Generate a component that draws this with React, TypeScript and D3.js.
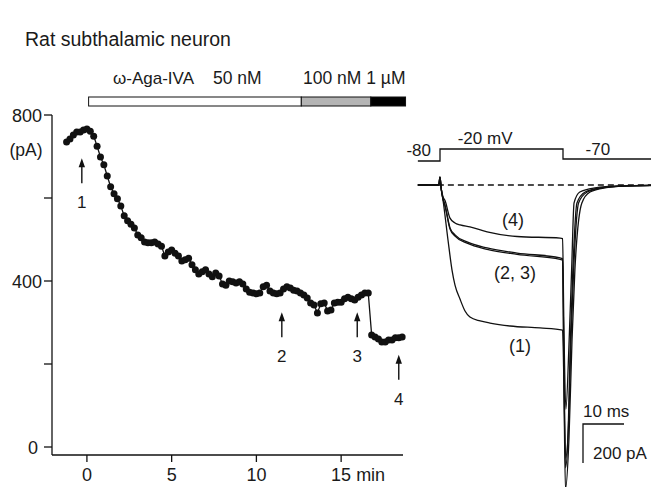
import React, { useEffect, useRef } from 'react';
import * as d3 from 'd3';

// Peak Ca current vs time, plus example current traces (1)-(4).

const W = 651;
const H = 487;
const FONT = 'Liberation Sans, Arial, Helvetica, sans-serif';

// time course (min) and peak current (pA)
const sweepTimes = [
  -1.2, -1.0, -0.8, -0.6, -0.4, -0.2, 0, 0.2, 0.4, 0.6, 0.8, 1.0, 1.2, 1.4, 1.6, 1.8, 2.0, 2.2, 2.4, 2.6,
  2.8, 3.0, 3.2, 3.4, 3.6, 3.8, 4.0, 4.2, 4.4, 4.6, 4.8, 5.0, 5.2, 5.4, 5.6, 5.8, 6.0, 6.2, 6.4, 6.6,
  6.8, 7.0, 7.2, 7.4, 7.6, 7.8, 8.0, 8.2, 8.4, 8.6, 8.8, 9.0, 9.2, 9.4, 9.6, 9.8, 10.0, 10.2, 10.4, 10.6,
  10.8, 11.0, 11.2, 11.4, 11.6, 11.8, 12.0, 12.2, 12.4, 12.6, 12.8, 13.0, 13.2, 13.4, 13.6, 13.8, 14.0, 14.2, 14.4, 14.6,
  14.8, 15.0, 15.2, 15.4, 15.6, 15.8, 16.0, 16.2, 16.4, 16.6, 16.8, 17.0, 17.2, 17.4, 17.6, 17.8, 18.0, 18.2, 18.4, 18.6,
];
const peakCurrent = [
  735, 742, 752, 759, 759, 764, 766, 761, 749, 725, 699, 680, 653, 627, 610, 598, 581, 557, 545, 537,
  528, 511, 504, 494, 492, 492, 494, 489, 484, 460, 470, 475, 467, 460, 448, 451, 455, 439, 427, 417,
  422, 427, 417, 410, 419, 412, 393, 390, 400, 398, 395, 398, 393, 381, 373, 371, 369, 371, 386, 390,
  376, 371, 369, 371, 381, 386, 383, 378, 376, 371, 366, 359, 347, 342, 323, 345, 347, 328, 330, 347,
  349, 349, 357, 361, 357, 354, 361, 366, 371, 371, 270, 265, 260, 253, 253, 258, 258, 263, 263, 265,
];

const yTicks = [0, 200, 400, 600, 800];
const yTickLabels = ['0', '', '400', '', '800'];
const xTicks = [0, 5, 10, 15];
const xTickLabels = ['0', '5', '10', '15'];

// drug application bar
const drugFrom = [0.1, 12.65, 16.75];
const drugTo = [12.65, 16.75, 18.8];
const drugFill = ['#ffffff', '#b4b4b4', '#000000'];

// arrows marking the sweeps shown on the right
const arrowTimes = [-0.3, 11.5, 15.95, 18.4];
const arrowTipValues = [696, 325, 325, 222];
const arrowLabels = ['1', '2', '3', '4'];

// voltage protocol (ms, mV)
const protocolTimes = [-5.4, 0, 0, 30, 30, 51.6];
const protocolMv = [-80, -80, -20, -20, -70, -70];

// current traces (ms, pA)
const trace1: [number, number][] = [
  [-5.4, 0], [-0.3, 0], [0, 40], [0.3, -20], [0.73, -77], [1.95, -282], [2.93, -436], [3.66, -513],
  [4.88, -585], [6.1, -646], [7.3, -677], [9.8, -697], [12.2, -708], [17.1, -723], [24.4, -733],
  [29.9, -744], [30.2, -1000], [30.6, -1560], [31.46, -1297], [32.2, -795], [32.9, -436], [34.6, -92],
  [36.6, -36], [40.2, -15], [46.3, -5], [51.6, -3],
];
const trace2: [number, number][] = [
  [-5.4, 0], [-0.3, 0], [0, 40], [0.3, -20], [0.73, -70], [1.22, -103], [2.44, -220], [3.66, -256],
  [6.6, -292], [11.5, -323], [18.8, -349], [29.3, -374], [29.9, -378], [30.2, -900], [30.6, -1450],
  [31.2, -1297], [31.8, -795], [32.4, -436], [33.4, -92], [35.4, -36], [39, -15], [45.1, -5], [51.6, -2],
];
const trace3: [number, number][] = [
  [-5.4, 0], [-0.3, 0], [0, 40], [0.3, -20], [0.73, -72], [1.22, -108], [2.44, -226], [3.66, -262],
  [6.6, -298], [11.5, -330], [18.8, -356], [29.3, -382], [29.9, -385], [30.2, -900], [30.65, -1400],
  [31.3, -1250], [31.95, -795], [32.6, -436], [33.8, -92], [35.9, -36], [39.5, -15], [45.6, -5], [51.6, -2],
];
const trace4: [number, number][] = [
  [-5.4, 0], [-0.3, 0], [0, 40], [0.3, -20], [0.73, -60], [1.22, -80], [2.44, -170], [3.66, -195],
  [4.9, -205], [7.3, -215], [11.5, -240], [18.8, -264], [29.3, -272], [29.9, -275], [30.2, -700],
  [30.7, -1150], [31.5, -795], [32.1, -436], [32.7, -92], [34.1, -36], [37.8, -15], [43.9, -5], [51.6, -2],
];
const traces = [trace1, trace2, trace3, trace4];
const traceLabels = ['(1)', '(2, 3)', '(4)'];
const traceLabelT = [19.5, 18.3, 17.8];
const traceLabelPa = [-855, -480, -210];

const App = () => {
  const svgRef = useRef<SVGSVGElement>(null);

  useEffect(() => {
    const svg = d3.select(svgRef.current);
    svg.selectAll('*').remove();
    svg.append('rect').attr('width', W).attr('height', H).attr('fill', 'white');

    const txt = (x: number, y: number, s: string, size: number, anchor = 'start') =>
      svg
        .append('text')
        .attr('x', x)
        .attr('y', y)
        .attr('text-anchor', anchor)
        .attr('font-family', FONT)
        .attr('font-size', size)
        .attr('fill', '#1a1a1a')
        .text(s);

    txt(25, 46, 'Rat subthalamic neuron', 19.5);

    // ---------- time course ----------
    const x = d3.scaleLinear().domain([-2.06, 18.65]).range([52, 403]);
    const y = d3.scaleLinear().domain([0, 800]).range([447, 115]);
    const axisY = 455;

    const g = svg.append('g').attr('stroke', '#111').attr('fill', 'none').attr('stroke-width', 1.3);
    g.append('line').attr('x1', 52).attr('x2', 52).attr('y1', y(800)).attr('y2', axisY);
    g.append('line').attr('x1', 52).attr('x2', x.range()[1]).attr('y1', axisY).attr('y2', axisY);
    yTicks.forEach((v) => {
      g.append('line').attr('x1', 44).attr('x2', 52).attr('y1', y(v)).attr('y2', y(v));
    });
    yTicks.forEach((v, i) => {
      if (yTickLabels[i]) txt(v === 0 ? 38 : 42, y(v) + 6.5, yTickLabels[i], 18, 'end');
    });
    txt(26, 156, '(pA)', 17.5, 'middle');
    xTicks.forEach((t, i) => {
      g.append('line').attr('x1', x(t)).attr('x2', x(t)).attr('y1', axisY).attr('y2', axisY + 7);
      txt(x(t), 481, xTickLabels[i], 18, 'middle');
    });
    txt(x(15) + 15, 481, 'min', 18);

    // drug bar
    drugFrom.forEach((f, i) => {
      svg
        .append('rect')
        .attr('x', x(f))
        .attr('y', 97)
        .attr('width', x(drugTo[i]) - x(f))
        .attr('height', 9)
        .attr('fill', drugFill[i])
        .attr('stroke', '#111')
        .attr('stroke-width', 1);
    });
    txt(113, 84, 'ω-Aga-IVA', 17);
    txt(213, 84, '50 nM', 17.5);
    txt(303, 84, '100 nM 1 µM', 17.5);

    // connecting line + dots
    const pts = sweepTimes.map((t, i) => [t, peakCurrent[i]] as [number, number]);
    svg
      .append('path')
      .datum(pts)
      .attr('fill', 'none')
      .attr('stroke', '#111')
      .attr('stroke-width', 1.3)
      .attr('d', d3.line<[number, number]>().x((d) => x(d[0])).y((d) => y(d[1])));
    svg
      .append('g')
      .selectAll('circle')
      .data(pts)
      .enter()
      .append('circle')
      .attr('cx', (d) => x(d[0]))
      .attr('cy', (d) => y(d[1]))
      .attr('r', 3.5)
      .attr('fill', '#111');

    // arrows
    arrowTimes.forEach((t, i) => {
      const ax = x(t);
      const tip = y(arrowTipValues[i]);
      svg.append('line').attr('x1', ax).attr('x2', ax).attr('y1', tip + 4).attr('y2', tip + 25)
        .attr('stroke', '#111').attr('stroke-width', 1.4);
      svg.append('path').attr('d', `M${ax},${tip} L${ax - 3.2},${tip + 9} L${ax + 3.2},${tip + 9} Z`).attr('fill', '#111');
      txt(ax, tip + 50, arrowLabels[i], 17, 'middle');
    });

    // ---------- traces ----------
    const tx = d3.scaleLinear().domain([0, 30]).range([440, 563]);
    const ti = d3.scaleLinear().domain([0, -200]).range([185, 224]);
    const vy = d3.scaleLinear().domain([-80, -20]).range([161, 149]);

    const proto = protocolTimes.map((t, i) => [t, protocolMv[i]] as [number, number]);
    svg
      .append('path')
      .datum(proto)
      .attr('fill', 'none')
      .attr('stroke', '#111')
      .attr('stroke-width', 1.3)
      .attr('d', d3.line<[number, number]>().x((d) => tx(d[0])).y((d) => vy(d[1])));
    txt(tx(-5.2), vy(-80) - 5, '-80', 17, 'middle');
    txt(tx(11), vy(-20) - 5, '-20 mV', 17, 'middle');
    txt(tx(38.5), vy(-70) - 4, '-70', 17, 'middle');

    svg
      .append('line')
      .attr('x1', tx(-5.4))
      .attr('x2', W)
      .attr('y1', ti(0))
      .attr('y2', ti(0))
      .attr('stroke', '#111')
      .attr('stroke-width', 1.4)
      .attr('stroke-dasharray', '6,4');

    const traceLine = d3
      .line<[number, number]>()
      .x((d) => tx(d[0]))
      .y((d) => ti(d[1]))
      .curve(d3.curveMonotoneX);
    traces.forEach((tr) => {
      svg
        .append('path')
        .datum(tr)
        .attr('fill', 'none')
        .attr('stroke', '#111')
        .attr('stroke-width', 1.3)
        .attr('d', traceLine);
    });
    traceLabels.forEach((l, i) => {
      txt(tx(traceLabelT[i]), ti(traceLabelPa[i]), l, 18, 'middle');
    });

    // scale bar: 10 ms, 200 pA
    const sbx = 583;
    const sby = 424;
    const sbW = tx(10) - tx(0);
    const sbH = ti(-200) - ti(0);
    svg.append('path')
      .attr('d', `M${sbx + sbW},${sby} L${sbx},${sby} L${sbx},${sby + sbH}`)
      .attr('fill', 'none')
      .attr('stroke', '#111')
      .attr('stroke-width', 1.3);
    txt(sbx, sby - 7, '10 ms', 17);
    txt(sbx + 10, sby + 35, '200 pA', 17);
  }, []);

  return (
    <svg
      ref={svgRef}
      width={W}
      height={H}
      style={{ position: 'absolute', left: 0, top: 0, display: 'block' }}
    />
  );
};

export default App;
